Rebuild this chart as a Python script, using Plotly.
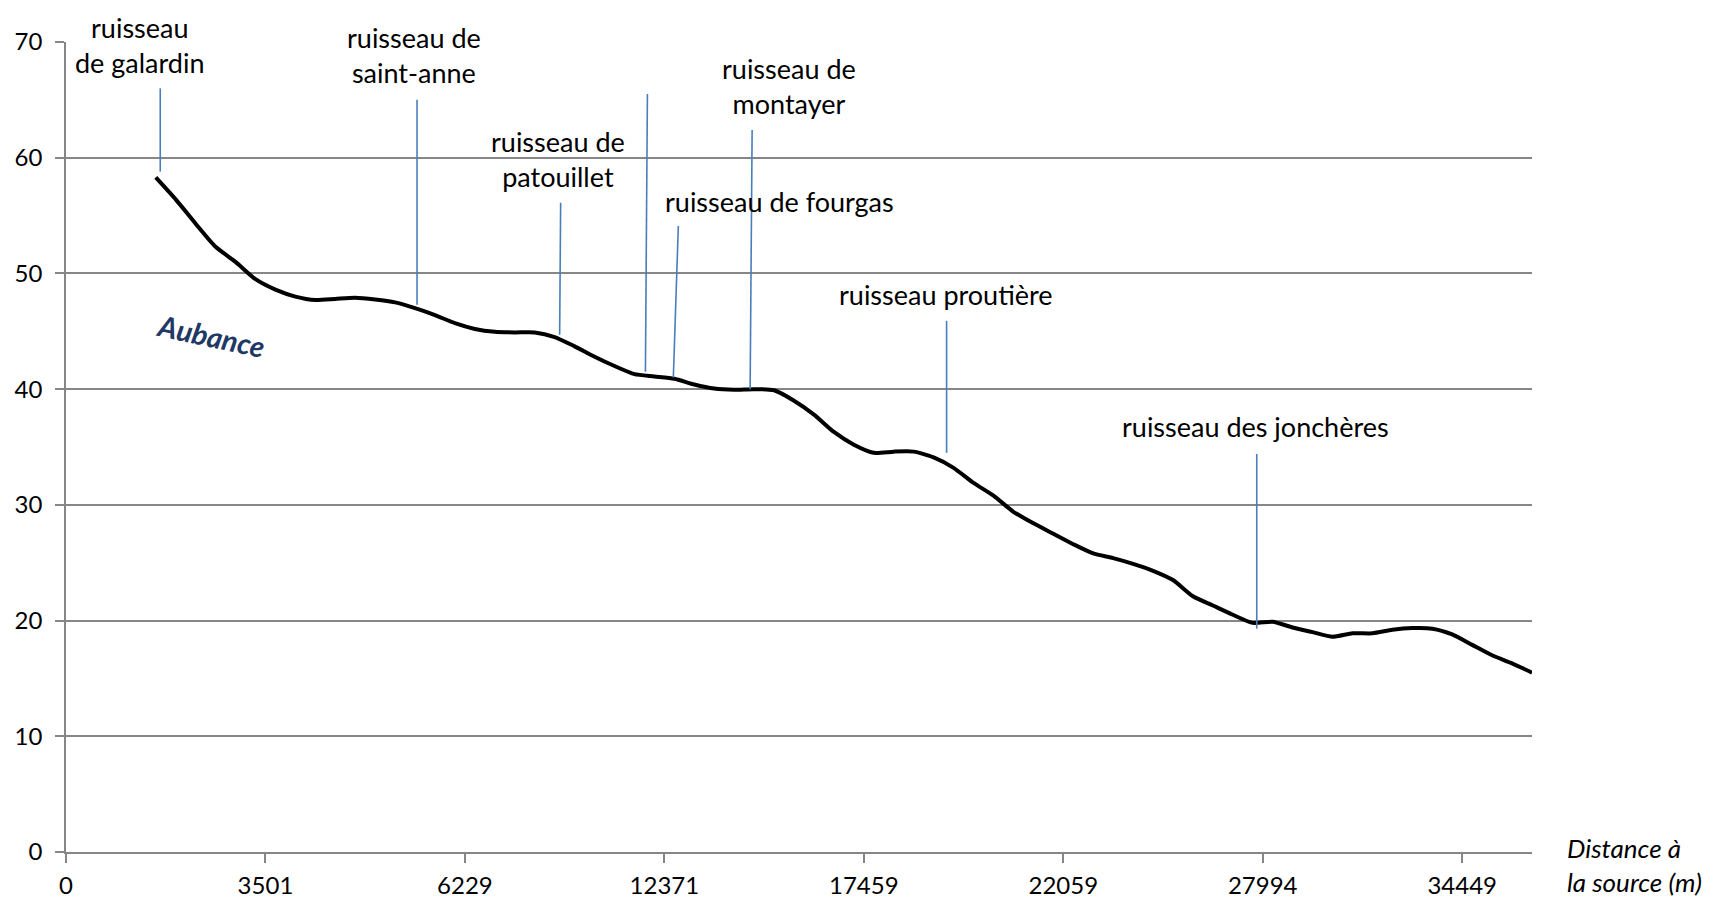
import plotly.graph_objects as go

# ---- data ----
tick_index = [0, 20, 40, 60, 80, 100, 120, 140]
tick_labels = ["0", "3501", "6229", "12371", "17459", "22059", "27994", "34449"]
n_last_index = 147

profile_start = 9
profile_step = 2
elevation = [58.3, 56.4, 54.3, 52.3, 51.0, 49.5, 48.6, 48.0, 47.7, 47.8,
             47.9, 47.75, 47.5, 47.0, 46.4, 45.7, 45.2, 44.95, 44.9, 44.9,
             44.5, 43.7, 42.8, 42.0, 41.3, 41.1, 40.9, 40.4, 40.05, 39.95,
             40.0, 39.9, 39.0, 37.8, 36.3, 35.2, 34.5, 34.6, 34.6, 34.1,
             33.2, 31.9, 30.8, 29.4, 28.4, 27.5, 26.6, 25.8, 25.4, 24.9,
             24.3, 23.5, 22.1, 21.3, 20.5, 19.8, 19.9, 19.4, 19.0, 18.6,
             18.9, 18.9, 19.2, 19.35, 19.3, 18.8, 17.9, 17.0, 16.3, 15.5]

trib_names = ["ruisseau<br>de galardin", "ruisseau de<br>saint-anne", "ruisseau de<br>patouillet",
              "ruisseau de<br>roulet", "ruisseau de fourgas", "ruisseau de<br>montayer",
              "ruisseau proutière", "ruisseau des jonchères"]
trib_label_x = [7.4, 34.9, 49.3, 58.4, 71.5, 72.5, 88.2, 119.3]
trib_label_y = [69.7, 68.9, 59.9, 70.2, 56.25, 66.2, 48.2, 36.8]
trib_line_x_top = [9.45, 35.2, 49.6, 58.3, 61.4, 68.8, 88.3, 119.4]
trib_line_x_bot = [9.45, 35.2, 49.5, 58.1, 60.9, 68.6, 88.3, 119.4]
trib_line_y_top = [66.0, 65.0, 56.1, 65.5, 54.1, 62.4, 45.9, 34.4]
trib_line_y_bot = [58.8, 47.3, 44.7, 41.5, 41.0, 40.0, 34.5, 19.3]

river_name = "Aubance"
river_label_x = 14.5
river_label_y = 44.6

x_vals = [profile_start + i * profile_step for i in range(len(elevation))]

FONT = "Lato, 'Open Sans', sans-serif"
GRID = "#868686"

fig = go.Figure()
fig.add_trace(go.Scatter(
    x=x_vals, y=elevation, mode="lines",
    line=dict(color="black", width=4, shape="spline", smoothing=0.6),
    showlegend=False, hoverinfo="skip"))

for xt, xb, yt, yb in zip(trib_line_x_top, trib_line_x_bot, trib_line_y_top, trib_line_y_bot):
    fig.add_shape(type="line", xref="x", yref="y", x0=xt, y0=yt, x1=xb, y1=yb,
                  line=dict(color="#4A7EBB", width=1.6), layer="above")

for name, lx, ly in zip(trib_names, trib_label_x, trib_label_y):
    fig.add_annotation(x=lx, y=ly, xref="x", yref="y", text=name, showarrow=False,
                       font=dict(family=FONT, size=27, color="black"),
                       xanchor="center", yanchor="middle", align="center")

fig.add_annotation(x=river_label_x, y=river_label_y, xref="x", yref="y",
                   text="<b><i>" + river_name + "</i></b>", showarrow=False,
                   textangle=12, font=dict(family=FONT, size=29, color="#1F3864"),
                   xanchor="center", yanchor="middle")

fig.add_annotation(x=1.0225, y=-0.016, xref="paper", yref="paper",
                   text="<i>Distance à<br>la source (m)</i>", showarrow=False,
                   font=dict(family=FONT, size=26, color="black"),
                   xanchor="left", yanchor="middle", align="left")

fig.update_xaxes(range=[0, n_last_index], tickmode="array", tickvals=tick_index,
                 ticktext=tick_labels, showgrid=False, zeroline=False,
                 showline=True, linecolor=GRID, linewidth=1.5,
                 ticks="outside", ticklen=9, tickcolor=GRID, tickwidth=1.5,
                 ticklabelstandoff=2,
                 tickfont=dict(family=FONT, size=24, color="black"))
fig.update_yaxes(range=[0, 70], dtick=10, showgrid=True, gridcolor=GRID, gridwidth=1.5,
                 zeroline=False, showline=True, linecolor=GRID, linewidth=1.5,
                 ticks="outside", ticklen=9, tickcolor=GRID, tickwidth=1.5,
                 ticklabelstandoff=8,
                 tickfont=dict(family=FONT, size=24, color="black"))

# page body has an 8px default margin; compensate so the plot area lands where the reference has it
fig.update_layout(width=1713, height=891, margin=dict(l=58, r=189, t=34, b=47, autoexpand=False),
                  paper_bgcolor="white", plot_bgcolor="white",
                  font=dict(family=FONT))

fig.write_html("out.html")
